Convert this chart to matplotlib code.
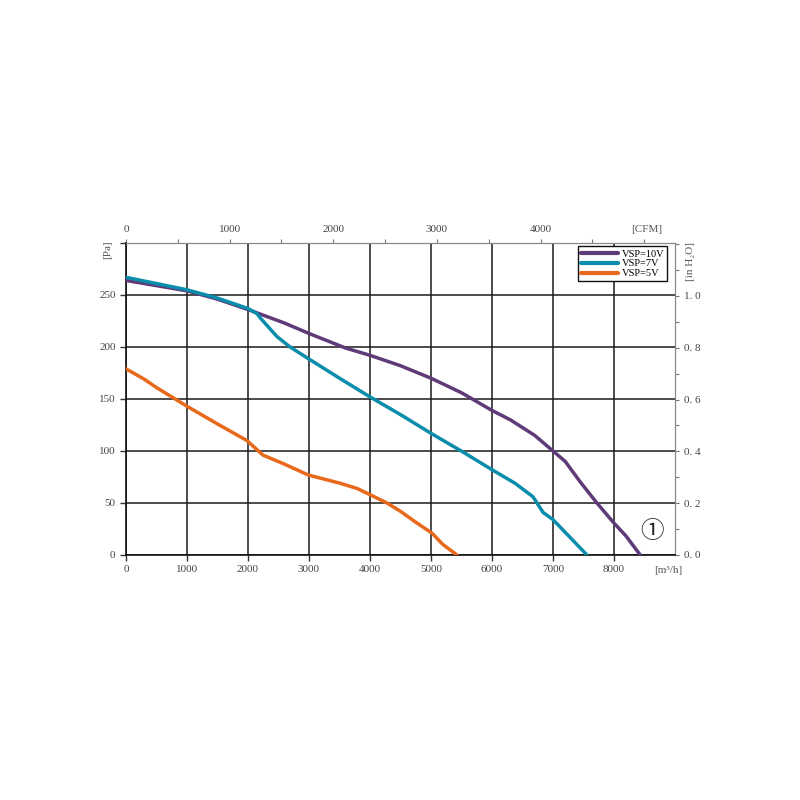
import matplotlib
matplotlib.use("Agg")
import matplotlib.pyplot as plt
import numpy as np
from matplotlib.ticker import MultipleLocator, FuncFormatter

# ---- data ----
vsp10_q = [0, 500, 1000, 1500, 2000, 2600, 3000, 3600, 4000, 4500, 5000, 5500, 6000, 6300, 6700, 7000, 7200, 7450, 7720, 7980, 8200, 8430]
vsp10_p = [264, 259, 254, 246, 236, 223, 213, 199, 192, 182, 170, 156, 139, 130, 115, 100, 90, 70, 50, 32, 18, 0]

vsp7_q = [0, 500, 1000, 1500, 2000, 2150, 2200, 2475, 2690, 2984, 3500, 4000, 4500, 5000, 5525, 6000, 6377, 6672, 6738, 6836, 7000, 7557]
vsp7_p = [267, 261, 255, 247, 237, 232, 228, 210, 200, 189, 170, 152, 135, 117, 99, 82, 69, 56, 50, 41, 34, 0]

vsp5_q = [0, 300, 500, 1000, 1500, 1984, 2246, 2574, 2984, 3508, 3787, 4000, 4279, 4500, 4738, 5016, 5197, 5426]
vsp5_p = [179, 169, 161, 143, 126, 110, 96, 88, 77, 69, 64, 58, 50, 42, 32, 21, 10, 0]

series_labels = ["VSP=10V", "VSP=7V", "VSP=5V"]
series_colors = ["#5f3a79", "#0a8cab", "#e8691b"]

x_ticks = [0, 1000, 2000, 3000, 4000, 5000, 6000, 7000, 8000]
y_ticks = [0, 50, 100, 150, 200, 250]

PA_PER_INH2O = 249.09
M3H_PER_CFM = 1.699

serif = ["Liberation Serif", "DejaVu Serif"]
plt.rcParams['font.family'] = serif

fig = plt.figure(figsize=(8, 8), dpi=100)
ax = fig.add_axes([126/800, 1-555/800, 549/800, 312/800])

for q, p, lab, col in zip([vsp10_q, vsp7_q, vsp5_q], [vsp10_p, vsp7_p, vsp5_p], series_labels, series_colors):
    ax.plot(q, p, color=col, lw=2.5, label=lab, solid_capstyle='round', solid_joinstyle='round', zorder=3)

ax.set_xlim(0, 9000)
ax.set_ylim(0, 300)
ax.set_xticks(x_ticks)
ax.set_yticks(y_ticks + [300])
ax.set_yticklabels([str(v) for v in y_ticks] + [""])
ax.grid(True, color="#1a1a1a", lw=1.1)
ax.set_axisbelow(True)

for s in ["left", "bottom"]:
    ax.spines[s].set_color("#111111")
    ax.spines[s].set_linewidth(1.2)
for s in ["top", "right"]:
    ax.spines[s].set_color("#888888")
    ax.spines[s].set_linewidth(0.8)

ax.tick_params(axis='both', labelsize=8, colors="#333333", length=4, width=1, direction='out')
ax.tick_params(axis='both', labelcolor="#444444")

# secondary axes
secx = ax.secondary_xaxis('top', functions=(lambda v: v / M3H_PER_CFM, lambda v: v * M3H_PER_CFM))
secx.set_xticks([0, 1000, 2000, 3000, 4000])
secx.xaxis.set_minor_locator(MultipleLocator(500))
secx.tick_params(which='both', labelsize=8, colors="#777777", labelcolor="#444444", length=3, width=0.8, direction='out')
secx.spines['top'].set_color("#888888")
secx.spines['top'].set_linewidth(0.8)

secy = ax.secondary_yaxis('right', functions=(lambda v: v / PA_PER_INH2O, lambda v: v * PA_PER_INH2O))
secy.set_yticks([0.0, 0.2, 0.4, 0.6, 0.8, 1.0])
secy.yaxis.set_minor_locator(MultipleLocator(0.1))
secy.yaxis.set_major_formatter(FuncFormatter(lambda v, pos: f"{v:.1f}".replace(".", ". ")))
secy.tick_params(which='both', labelsize=8, colors="#777777", labelcolor="#444444", length=3, width=0.8, direction='out')
secy.spines['right'].set_color("#888888")
secy.spines['right'].set_linewidth(0.8)

# unit labels
ax.text(-0.033, 0.978, "[Pa]", transform=ax.transAxes, rotation=90, ha='center', va='center', fontsize=8, color="#555555")
ax.text(1.028, 0.94, "[in H\u2082O]", transform=ax.transAxes, rotation=90, ha='center', va='center', fontsize=8, color="#555555",
        family=["Liberation Serif", "DejaVu Serif"])
ax.text(0.949, 1.042, "[CFM]", transform=ax.transAxes, ha='center', va='center', fontsize=8, color="#555555")
ax.text(0.987, -0.051, "[m\u00b3/h]", transform=ax.transAxes, ha='center', va='center', fontsize=8, color="#555555")
ax.text(0.958, 0.074, "\u2460", transform=ax.transAxes, ha='center', va='center', fontsize=17, color="#222222",
        family=["Noto Sans CJK SC", "DejaVu Sans"])

leg = ax.legend(loc='upper right', bbox_to_anchor=(0.986, 0.99), fontsize=7.5, frameon=True, fancybox=False,
                handlelength=3.6, handletextpad=0.3, borderpad=0.3, labelspacing=0.05, borderaxespad=0)
leg.get_frame().set_edgecolor("#111111")
leg.get_frame().set_linewidth(1.0)
leg.get_frame().set_alpha(1)
for line in leg.get_lines():
    line.set_linewidth(3)

fig.savefig("out.png", dpi=100, facecolor="white")
